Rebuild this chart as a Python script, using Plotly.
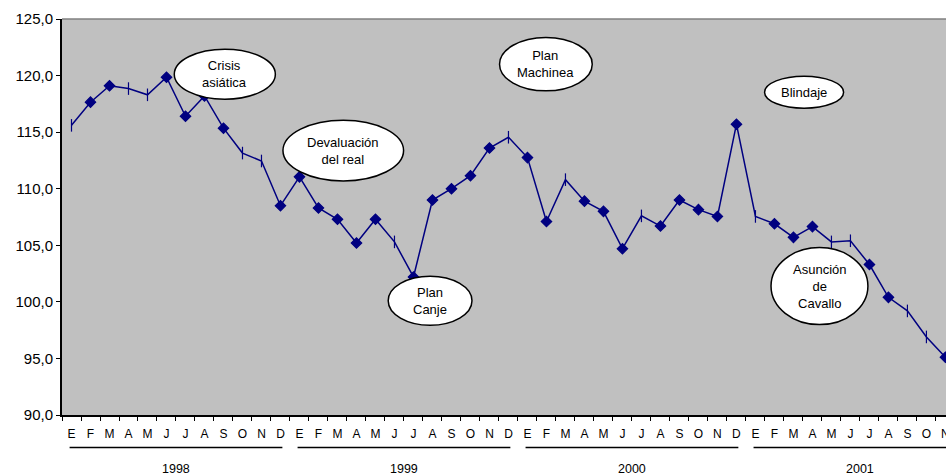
import plotly.graph_objects as go

# Monthly index, January 1998 to November 2001
years = ["1998", "1999", "2000", "2001"]
month_letters = ["E", "F", "M", "A", "M", "J", "J", "A", "S", "O", "N", "D"]
values = [
    115.6, 117.65, 119.1, 118.85, 118.3, 119.85, 116.4, 118.2, 115.35, 113.15, 112.45, 108.5,
    111.05, 108.3, 107.3, 105.2, 107.3, 105.3, 102.2, 109.0, 110.0, 111.15, 113.6, 114.55,
    112.75, 107.1, 110.8, 108.9, 108.0, 104.7, 107.6, 106.7, 109.0, 108.15, 107.55, 115.7,
    107.55, 106.9, 105.7, 106.65, 105.3, 105.4, 103.3, 100.4, 99.2, 96.9, 95.1,
]
events = ["Crisis<br>asiática", "Devaluación<br>del real", "Plan<br>Canje",
          "Plan<br>Machinea", "Blindaje", "Asunción<br>de<br>Cavallo"]

n = len(values)
x = list(range(n))
tick_text = [month_letters[i % 12] for i in x]

# points drawn with a thin vertical bar instead of a diamond
bar_points = {0, 3, 4, 9, 10, 17, 23, 26, 30, 36, 40, 41, 44, 45}
symbols = ["line-ns" if i in bar_points else "diamond" for i in x]
sizes = [9 if i in bar_points else 8 for i in x]

FONT = "Liberation Sans, Arial, sans-serif"
NAVY = "#000080"

fig = go.Figure()
fig.add_trace(go.Scatter(
    x=x, y=values, mode="lines+markers",
    line=dict(color=NAVY, width=1.5),
    marker=dict(symbol=symbols, size=sizes, color=NAVY, opacity=1,
                line=dict(color=NAVY, width=1.2)),
    showlegend=False, hoverinfo="skip",
))

shapes = []
annotations = []

# plot-area frame (top edge grey)
shapes.append(dict(type="line", xref="paper", yref="paper", x0=0, x1=1, y0=1, y1=1,
                   line=dict(color="#808080", width=1.5), layer="below"))

# event bubbles: (x0, x1, y0, y1) in data units
bubbles = [
    (5.41, 10.73, 117.91, 122.33),
    (11.13, 17.48, 110.69, 116.06),
    (16.67, 21.08, 97.93, 102.26),
    (22.53, 27.41, 118.65, 123.37),
    (36.48, 40.64, 117.12, 119.95),
    (36.82, 41.92, 97.99, 104.8),
]
for (x0, x1, y0, y1), label in zip(bubbles, events):
    shapes.append(dict(type="circle", xref="x", yref="y", x0=x0, x1=x1, y0=y0, y1=y1,
                       fillcolor="white", line=dict(color="black", width=1.5), layer="above"))
    annotations.append(dict(x=(x0 + x1) / 2, y=(y0 + y1) / 2, xref="x", yref="y",
                            text=label, showarrow=False, align="center",
                            font=dict(family=FONT, size=13, color="black")))

# year group underlines and labels
for k, yr in enumerate(years):
    start = 12 * k
    shapes.append(dict(type="line", xref="x", yref="paper",
                       x0=start - 0.1, x1=start + 11.1, y0=-0.082, y1=-0.082,
                       line=dict(color="black", width=1.5)))
    annotations.append(dict(x=start + 5.5, y=-0.137, xref="x", yref="paper",
                            text=yr, showarrow=False, yanchor="middle",
                            font=dict(family=FONT, size=12.5, color="black")))

fig.update_layout(
    width=946, height=476,
    margin=dict(l=62, r=0, t=19, b=61, autoexpand=False),
    paper_bgcolor="white", plot_bgcolor="#C0C0C0",
    separators=",.",
    font=dict(family=FONT, color="black"),
    shapes=shapes, annotations=annotations,
    xaxis=dict(
        range=[-0.5, 46.03], tickmode="array", tickvals=x, ticktext=tick_text,
        ticks="", showgrid=False, zeroline=False, automargin=False,
        showline=True, linecolor="black", linewidth=2,
        ticklabelstandoff=7, ticklabeloverflow="allow",
        tickfont=dict(family=FONT, size=12, color="black"),
        minor=dict(tickmode="linear", tick0=-0.5, dtick=1, ticks="outside",
                   ticklen=4, tickcolor="black", tickwidth=1, showgrid=False),
    ),
    yaxis=dict(
        range=[90, 125], dtick=5, tick0=90, tickformat=".1f",
        ticks="outside", ticklen=4, tickcolor="black", tickwidth=1,
        showgrid=False, zeroline=False, automargin=False,
        showline=True, linecolor="black", linewidth=2,
        tickfont=dict(family=FONT, size=15, color="black"),
    ),
)

fig.write_html("out.html")
